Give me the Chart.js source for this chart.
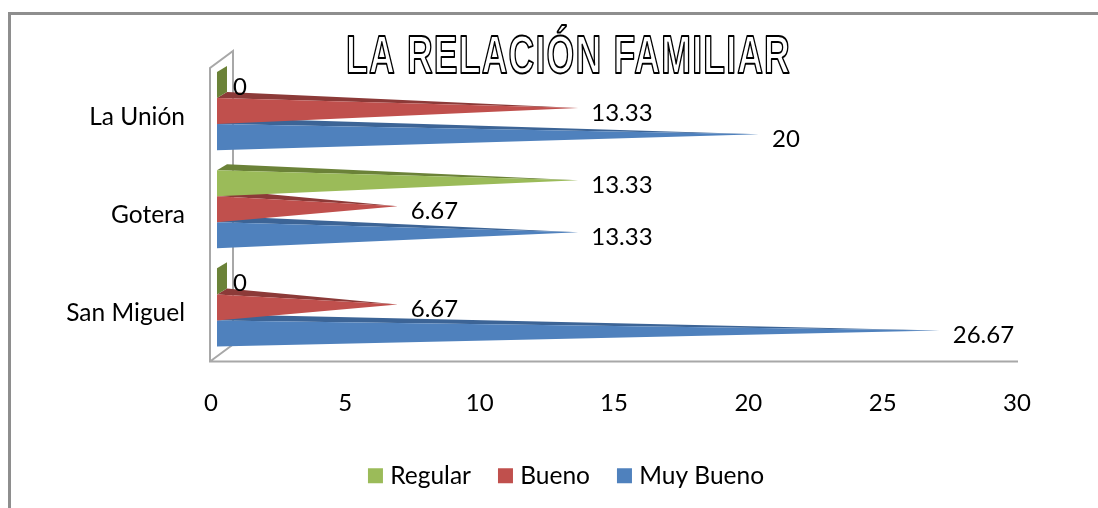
<!DOCTYPE html>
<html>
<head>
<meta charset="utf-8">
<style>
html,body{margin:0;padding:0;background:#fff;}
#frame{position:absolute;left:8px;top:12px;right:0;bottom:0;border-top:3px solid #8e8e8e;border-left:3px solid #8e8e8e;}
#wrap{position:absolute;left:0;top:0;width:1098px;height:508px;}
</style>
<script src="https://cdn.jsdelivr.net/npm/chart.js@4/dist/chart.umd.min.js"></script>
</head>
<body>
<div id="frame"></div>
<div id="wrap"><canvas id="c" width="1098" height="508"></canvas></div>
<script>
const categories = ['La Unión', 'Gotera', 'San Miguel'];
const regular = [0, 13.33, 0];
const bueno = [13.33, 6.67, 6.67];
const muyBueno = [20, 13.33, 26.67];
const xTicks = [0, 5, 10, 15, 20, 25, 30];
const titleText = 'LA RELACIÓN FAMILIAR';

const FONT = 'Lato, Carlito, sans-serif';
const COLORS = {Regular:['#9BBB59','#6B8238'], Bueno:['#C0504D','#8C3A38'], 'Muy Bueno':['#4F81BD','#3C6496']};
const WALL = '#a8a8a8';

const pyramidPlugin = {
  id: 'pyramids',
  beforeDatasetsDraw(chart) {
    const ctx = chart.ctx;
    const xs = chart.scales.x, ys = chart.scales.y;
    const L = xs.left, R = xs.right, T = ys.top, B = ys.bottom;
    // walls and floor
    ctx.save();
    ctx.strokeStyle = WALL; ctx.lineWidth = 2; ctx.lineJoin = 'miter';
    ctx.beginPath();
    ctx.moveTo(L + 22, B - 12); ctx.lineTo(L + 22, T - 11); ctx.lineTo(L - 1, T + 6);
    ctx.lineTo(L - 1, B + 5); ctx.lineTo(R + 1, B + 5);
    ctx.moveTo(L - 1, B + 5); ctx.lineTo(L + 22, B - 12);
    ctx.stroke();
    // pyramids, drawn back to front so the upper series overlaps the lower
    const dx = 10, dy = -6, tipShift = -3;
    for (let d = chart.data.datasets.length - 1; d >= 0; d--) {
      const ds = chart.data.datasets[d];
      const meta = chart.getDatasetMeta(d);
      const [face, dark] = COLORS[ds.label];
      meta.data.forEach((el) => {
        const x0 = el.base, tx = el.x, top = el.y - el.height / 2, bot = el.y + el.height / 2, ty = el.y + tipShift;
        if (tx - x0 < 1) {
          ctx.fillStyle = dark;
          ctx.beginPath();
          ctx.moveTo(x0, top); ctx.lineTo(x0 + dx, top + dy); ctx.lineTo(x0 + dx, bot + dy); ctx.lineTo(x0, bot);
          ctx.closePath(); ctx.fill();
          return;
        }
        ctx.fillStyle = dark;
        ctx.beginPath();
        ctx.moveTo(x0, top); ctx.lineTo(x0 + dx, top + dy); ctx.lineTo(tx, ty);
        ctx.closePath(); ctx.fill();
        ctx.fillStyle = face;
        ctx.beginPath();
        ctx.moveTo(x0, top); ctx.lineTo(tx, ty); ctx.lineTo(x0, bot);
        ctx.closePath(); ctx.fill();
      });
    }
    // value labels
    ctx.fillStyle = '#000';
    ctx.font = '24px ' + FONT;
    ctx.textAlign = 'left'; ctx.textBaseline = 'middle';
    chart.data.datasets.forEach((ds, d) => {
      chart.getDatasetMeta(d).data.forEach((el, i) => {
        const gap = ds.data[i] === 0 ? 16 : 13;
        ctx.fillText(String(ds.data[i]), el.x + gap, el.y + 2);
      });
    });
    ctx.restore();
    return false;
  },
  afterDraw(chart) {
    const ctx = chart.ctx, tb = chart.titleBlock;
    ctx.save();
    ctx.font = 'bold 47px "Liberation Sans", sans-serif';
    ctx.letterSpacing = '1.5px';
    ctx.textAlign = 'center'; ctx.textBaseline = 'middle';
    const sx = 445 / ctx.measureText(titleText).width;
    ctx.translate((tb.left + tb.right) / 2, tb.bottom - 3.5);
    ctx.scale(sx, 1.15);
    ctx.strokeStyle = '#000'; ctx.lineWidth = 1.7; ctx.lineJoin = 'round';
    ctx.strokeText(titleText, 0, 0);
    ctx.restore();
  }
};

const mk = (label, data) => ({
  label, data,
  backgroundColor: COLORS[label][0],
  borderColor: COLORS[label][0],
  borderWidth: 10,
  xAxisID: 'x',
  yAxisID: 'y',
  categoryPercentage: 78 / 98,
  barPercentage: 1
});

new Chart(document.getElementById('c'), {
  type: 'bar',
  data: {
    labels: categories,
    datasets: [mk('Regular', regular), mk('Bueno', bueno), mk('Muy Bueno', muyBueno)]
  },
  plugins: [pyramidPlugin],
  options: {
    indexAxis: 'y',
    responsive: false,
    animation: false,
    layout: { padding: { left: 40, right: 1, top: 0, bottom: 10 } },
    scales: {
      // bars sit on the floor of the 3D box, slightly in from the printed axis
      x: { display: false, min: -0.221, max: 29.52 },
      xTicksAxis: {
        type: 'linear', position: 'bottom', min: 0, max: 30,
        afterBuildTicks: (s) => { s.ticks = xTicks.map(v => ({ value: v })); },
        afterFit: (s) => { s.height = 75; },
        grid: { display: false, drawTicks: false },
        border: { display: false },
        ticks: { color: '#000', font: { family: FONT, size: 24 }, padding: 32, maxRotation: 0, autoSkip: false }
      },
      y: {
        position: 'left',
        afterFit: (s) => { s.width = 171; },
        grid: { display: false, drawTicks: false },
        border: { display: false },
        ticks: { color: '#000', font: { family: FONT, size: 24.5 }, padding: 26, labelOffset: 6, autoSkip: false }
      },
      // empty margin on the right keeps the title and legend centred as in the reference
      rightMargin: {
        type: 'linear', position: 'right',
        afterFit: (s) => { s.width = 80; },
        grid: { display: false, drawTicks: false },
        border: { display: false },
        ticks: { display: false }
      }
    },
    plugins: {
      tooltip: { enabled: false },
      title: {
        display: true, text: titleText, color: '#fff',
        font: { family: '"Liberation Sans", sans-serif', size: 40, weight: 'normal', lineHeight: '12px' },
        padding: { top: 50, bottom: 0 }
      },
      legend: {
        position: 'bottom', align: 'center',
        labels: { color: '#000', font: { family: FONT, size: 24.5 }, boxWidth: 5, boxHeight: 5, padding: 32 }
      }
    }
  }
});
</script>
</body>
</html>
